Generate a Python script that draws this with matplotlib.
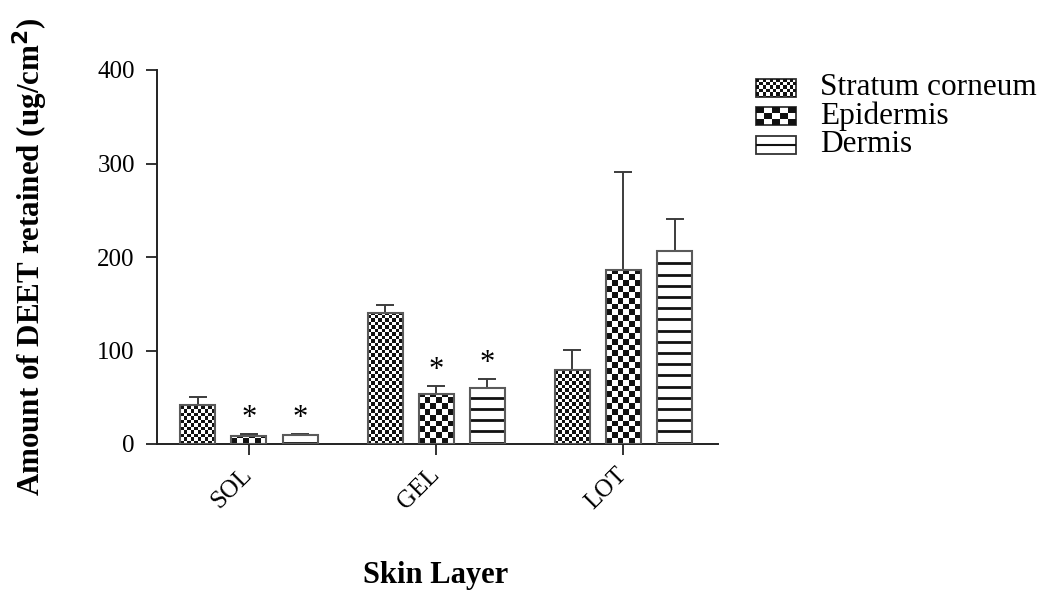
import numpy as np
import matplotlib.pyplot as plt
from matplotlib.patches import Rectangle
from matplotlib.collections import PatchCollection

plt.rcParams['font.family'] = ['Liberation Serif', 'DejaVu Serif']

# DEET retained per skin layer for each formulation (mean, SD)
formulations = ['SOL', 'GEL', 'LOT']
layers = ['Stratum corneum', 'Epidermis', 'Dermis']
sc_mean = [42, 140, 79]
sc_sd = [8, 9, 21.5]
epi_mean = [8.6, 53, 186]
epi_sd = [2, 9, 105]
derm_mean = [9.6, 60, 206]
derm_sd = [1.2, 9.5, 35]
epi_sig = [True, True, False]
derm_sig = [True, True, False]

W, H = 1040, 590
fig = plt.figure(figsize=(W / 100, H / 100), dpi=100)
ax = fig.add_axes([157 / W, 146 / H, 561 / W, 374 / H])
ax.set_xlim(-0.491, 2.505)
ax.set_ylim(0, 400)

# pixels per data unit, used to size the fill textures
ppx = ax.transData.transform((1, 0))[0] - ax.transData.transform((0, 0))[0]
ppy = ax.transData.transform((0, 1))[1] - ax.transData.transform((0, 0))[1]

EDGE = '#5a5a5a'
INK = '#111111'


def checker(ax, x0, y0, w, h, cw, ch, clip, zorder=2):
    nx = int(np.ceil(w / cw))
    ny = int(np.ceil(h / ch))
    cells = [Rectangle((x0 + i * cw, y0 + j * ch), cw, ch)
             for i in range(nx) for j in range(ny) if (i + j) % 2 == 0]
    pc = PatchCollection(cells, facecolor=INK, edgecolor='none', zorder=zorder)
    ax.add_collection(pc)
    pc.set_clip_path(clip)


def stripes(ax, x0, w, top, gap, offset, zorder=2):
    ys = np.arange(offset, top - 1, gap)
    ax.hlines(ys, x0, x0 + w, colors=INK, linewidth=2, zorder=zorder)


x = np.arange(len(formulations))
step = 0.273
width = 0.187
series = [
    (sc_mean, sc_sd, None, ('check', 3.5)),
    (epi_mean, epi_sd, epi_sig, ('check', 5.85)),
    (derm_mean, derm_sd, derm_sig, ('lines', 11.2)),
]

for k, (mean, sd, sig, fill) in enumerate(series):
    xs = x + (k - 1) * step
    face = ax.bar(xs, mean, width, color='white', edgecolor='none', zorder=1)
    for rect, m in zip(face.patches, mean):
        x0 = rect.get_x()
        if fill[0] == 'check':
            checker(ax, x0, 0, width, m, fill[1] / ppx, fill[1] / ppy, rect)
        else:
            stripes(ax, x0, width, m, fill[1] / ppy, 1.6)
    ax.errorbar(xs, mean, yerr=[np.zeros(len(mean)), sd], fmt='none',
                ecolor='#3c3c3c', elinewidth=1.4, capsize=6.2, capthick=1.4,
                zorder=2.5)
    ax.bar(xs, mean, width, fill=False, edgecolor=EDGE, linewidth=1.5, zorder=3)
    if sig is not None:
        for xi, m, s, flag in zip(xs, mean, sd, sig):
            if flag:
                ax.annotate('*', (xi, m + s), xytext=(0, 0.5),
                            textcoords='offset points', ha='center',
                            va='bottom', fontsize=22)

for side in ['top', 'right']:
    ax.spines[side].set_visible(False)
for side in ['left', 'bottom']:
    ax.spines[side].set_linewidth(1.4)
    ax.spines[side].set_color('#222222')

ax.set_yticks([0, 100, 200, 300, 400])
ax.tick_params(axis='y', labelsize=18, length=8, width=1.3, color='#222222', pad=8)
ax.set_xticks(x)
ax.set_xticklabels(formulations, rotation=45, ha='right', va='center',
                   rotation_mode='anchor', fontsize=18)
ax.tick_params(axis='x', length=8, width=1.3, color='#222222', pad=12)

ax.set_ylabel('Amount of DEET retained (ug/cm$^\\mathbf{2}$)', fontsize=22.3,
              fontweight='bold')
ax.yaxis.set_label_coords(-0.19, 0.5)
ax.set_xlabel('Skin Layer', fontsize=22, fontweight='bold')
ax.xaxis.set_label_coords(0.497, -0.314)

# legend drawn in figure pixel space
lax = fig.add_axes([0, 0, 1, 1], zorder=-1)
lax.set_xlim(0, W)
lax.set_ylim(H, 0)
lax.axis('off')
swatch = [('check', 3.4, 3.4), ('check', 8, 6), ('lines', None, None)]
for i, (name, sw) in enumerate(zip(layers, swatch)):
    yc = 87.5 + i * 28.5
    sx, sy, sw_w, sw_h = 756, yc - 9, 40, 18
    box = Rectangle((sx, sy), sw_w, sw_h, facecolor='white', edgecolor='none')
    lax.add_patch(box)
    if sw[0] == 'check':
        checker(lax, sx, sy, sw_w, sw_h, sw[1], sw[2], box)
    else:
        lax.hlines([sy + sw_h / 2], sx, sx + sw_w, colors=INK, linewidth=1.5)
    lax.add_patch(Rectangle((sx, sy), sw_w, sw_h, fill=False,
                            edgecolor='#333333', linewidth=1.3))
    lax.text(820, yc, name, fontsize=22.5, va='center', ha='left')

fig.savefig('out.png', dpi=100)
